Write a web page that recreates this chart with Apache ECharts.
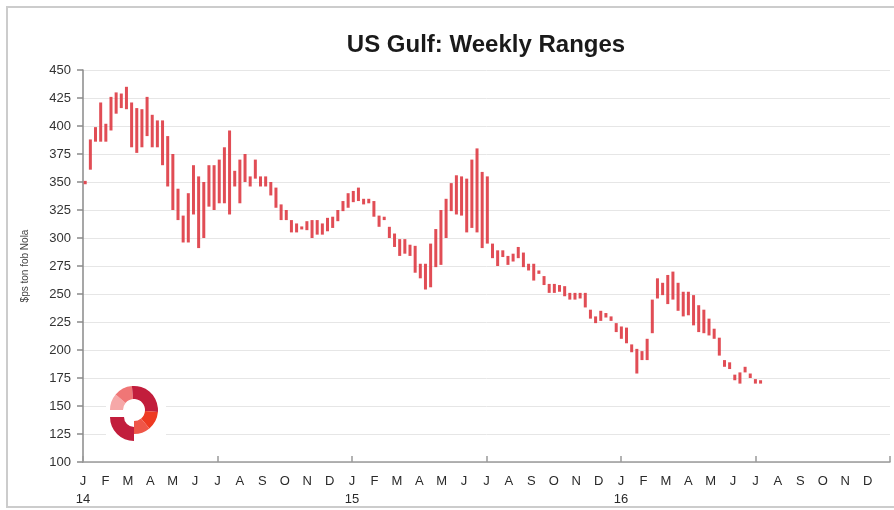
<!DOCTYPE html>
<html>
<head>
<meta charset="utf-8">
<script src="https://cdn.jsdelivr.net/npm/echarts@6/dist/echarts.min.js"></script>
<style>
html,body{margin:0;padding:0;background:#fff;}
#chart{width:894px;height:510px;}
</style>
</head>
<body>
<div id="chart"></div>
<script>
// Weekly high / low ranges, US Gulf ($ps ton fob Nola), starting first week of Jan 2014
const weeklyHigh = [
  351,388,399,421,402,426,430,429,435,421,416,415,426,410,405,405,391,375,344,320,
  340,365,355,350,365,365,370,381,396,360,370,375,355,370,355,355,350,345,330,325,
  316,313,310,315,316,316,313,318,319,325,333,340,342,345,335,335,333,320,319,310,
  304,299,299,294,293,277,277,295,308,325,335,349,356,355,353,370,380,359,355,295,
  289,289,284,286,292,287,277,277,271,266,259,259,258,257,251,251,251,251,236,230,
  235,233,230,224,221,220,205,201,199,210,245,264,260,267,270,260,252,252,249,240,
  236,228,219,211,191,189,178,180,185,179,174,173
];
const weeklyLow = [
  348,361,386,386,386,396,411,416,415,381,376,381,391,381,381,365,346,325,316,296,
  296,321,291,300,328,325,331,331,321,346,331,350,346,353,346,346,338,327,316,316,
  305,305,308,307,300,303,303,306,309,315,324,327,332,333,330,331,319,310,316,300,
  292,284,286,284,269,264,254,256,274,276,300,324,321,320,305,309,305,291,295,282,
  275,283,276,279,282,274,271,262,268,258,251,251,252,248,245,245,246,238,228,224,
  226,229,226,216,210,206,198,179,191,191,215,246,249,241,245,235,230,231,222,216,
  215,213,210,195,185,183,173,170,180,175,170,170
];
const monthLetters = ['J','F','M','A','M','J','J','A','S','O','N','D'];
const yearLabels = ['14','15','16'];
const yTicks = {min:100, max:450, step:25};

const firstWeekDay = 3; // days after 1 Jan 2014 of the first weekly observation
const seriesData = weeklyHigh.map((h, i) => {
  const months = (firstWeekDay + 7 * i) * 12 / 365.25;
  return [months, weeklyLow[i], h];
});

const barColor = '#dd343d';
const chart = echarts.init(document.getElementById('chart'));
const font = 'Liberation Sans, Arial, sans-serif';

chart.setOption({
  animation: false,
  backgroundColor: '#fff',
  title: {
    text: 'US Gulf: Weekly Ranges',
    left: 481, top: 28, textAlign: 'center',
    textStyle: {fontFamily: font, fontSize: 24, fontWeight: 'bold', color: '#1a1a1a'}
  },
  grid: {left: 83, right: 4, top: 70, bottom: 48, containLabel: false},
  xAxis: [{
    type: 'value', min: 0, max: 36, interval: 1, position: 'bottom',
    axisLine: {show: false}, axisTick: {show: false}, splitLine: {show: false},
    axisLabel: {
      margin: 10, fontFamily: font, fontSize: 13, color: '#2a2a2a', lineHeight: 18,
      formatter: function (v) {
        const idx = Math.round(v);
        if (idx >= 36) return '';
        const m = monthLetters[idx % 12];
        return idx % 12 === 0 ? m + '\n' + yearLabels[idx / 12] : m;
      }
    }
  }, {
    type: 'value', min: 0, max: 36, interval: 6, position: 'bottom',
    axisLine: {show: true, onZero: false, lineStyle: {color: '#9a9a9a', width: 1.5}},
    axisTick: {show: true, inside: true, length: 6, lineStyle: {color: '#9a9a9a', width: 1.5}},
    axisLabel: {show: false}, splitLine: {show: false}
  }],
  yAxis: {
    type: 'value', min: yTicks.min, max: yTicks.max, interval: yTicks.step,
    name: '$ps ton fob Nola', nameLocation: 'middle', nameGap: 53, nameRotate: 90,
    nameTextStyle: {fontFamily: font, fontSize: 10, color: '#444'},
    axisLine: {show: true, lineStyle: {color: '#8a8a8a', width: 1.5}},
    axisTick: {show: true, inside: false, length: 6, lineStyle: {color: '#8a8a8a', width: 1.5}},
    axisLabel: {margin: 12, fontFamily: font, fontSize: 13, color: '#333'},
    splitLine: {show: true, lineStyle: {color: '#e6e6e6', width: 1}}
  },
  graphic: [
    {type: 'rect', z: -10, silent: true, shape: {x: 7, y: 7, width: 950, height: 500},
     style: {fill: 'none', stroke: '#cccccc', lineWidth: 2}},
    {type: 'rect', z: 1, silent: true, shape: {x: 106, y: 382, width: 60, height: 62},
     style: {fill: '#ffffff'}}
  ],
  series: [
    {
      type: 'custom', xAxisIndex: 0, yAxisIndex: 0, silent: true, z: 3,
      encode: {x: 0, y: [1, 2]},
      data: seriesData,
      renderItem: function (params, api) {
        const x = api.value(0), lo = api.value(1), hi = api.value(2);
        const pTop = api.coord([x, hi]);
        const pBot = api.coord([x, lo]);
        let y0 = pTop[1], h = pBot[1] - pTop[1];
        if (h < 3) { y0 = (pTop[1] + pBot[1]) / 2 - 1.5; h = 3; }
        return {type: 'rect', shape: {x: pTop[0] - 1.5, y: y0, width: 3, height: h},
                style: {fill: barColor, opacity: 0.88}};
      }
    },
    {
      type: 'pie', silent: true, z: 4, center: [134, 410], radius: [11, 24],
      startAngle: 180, clockwise: true, label: {show: false}, labelLine: {show: false},
      emphasis: {disabled: true},
      data: [
        {value: 40, itemStyle: {color: '#f6a8a8'}},
        {value: 45, itemStyle: {color: '#f07676'}},
        {value: 100, itemStyle: {color: '#c21d3c'}},
        {value: 45, itemStyle: {color: '#ee3a22'}},
        {value: 40, itemStyle: {color: '#ef5648'}},
        {value: 90, itemStyle: {color: 'rgba(0,0,0,0)'}}
      ]
    },
    {
      type: 'pie', silent: true, z: 4, center: [134, 417], radius: [10, 24],
      startAngle: 270, clockwise: true, label: {show: false}, labelLine: {show: false},
      emphasis: {disabled: true},
      data: [
        {value: 90, itemStyle: {color: '#c21d3c'}},
        {value: 270, itemStyle: {color: 'rgba(0,0,0,0)'}}
      ]
    }
  ]
});
</script>
</body>
</html>
